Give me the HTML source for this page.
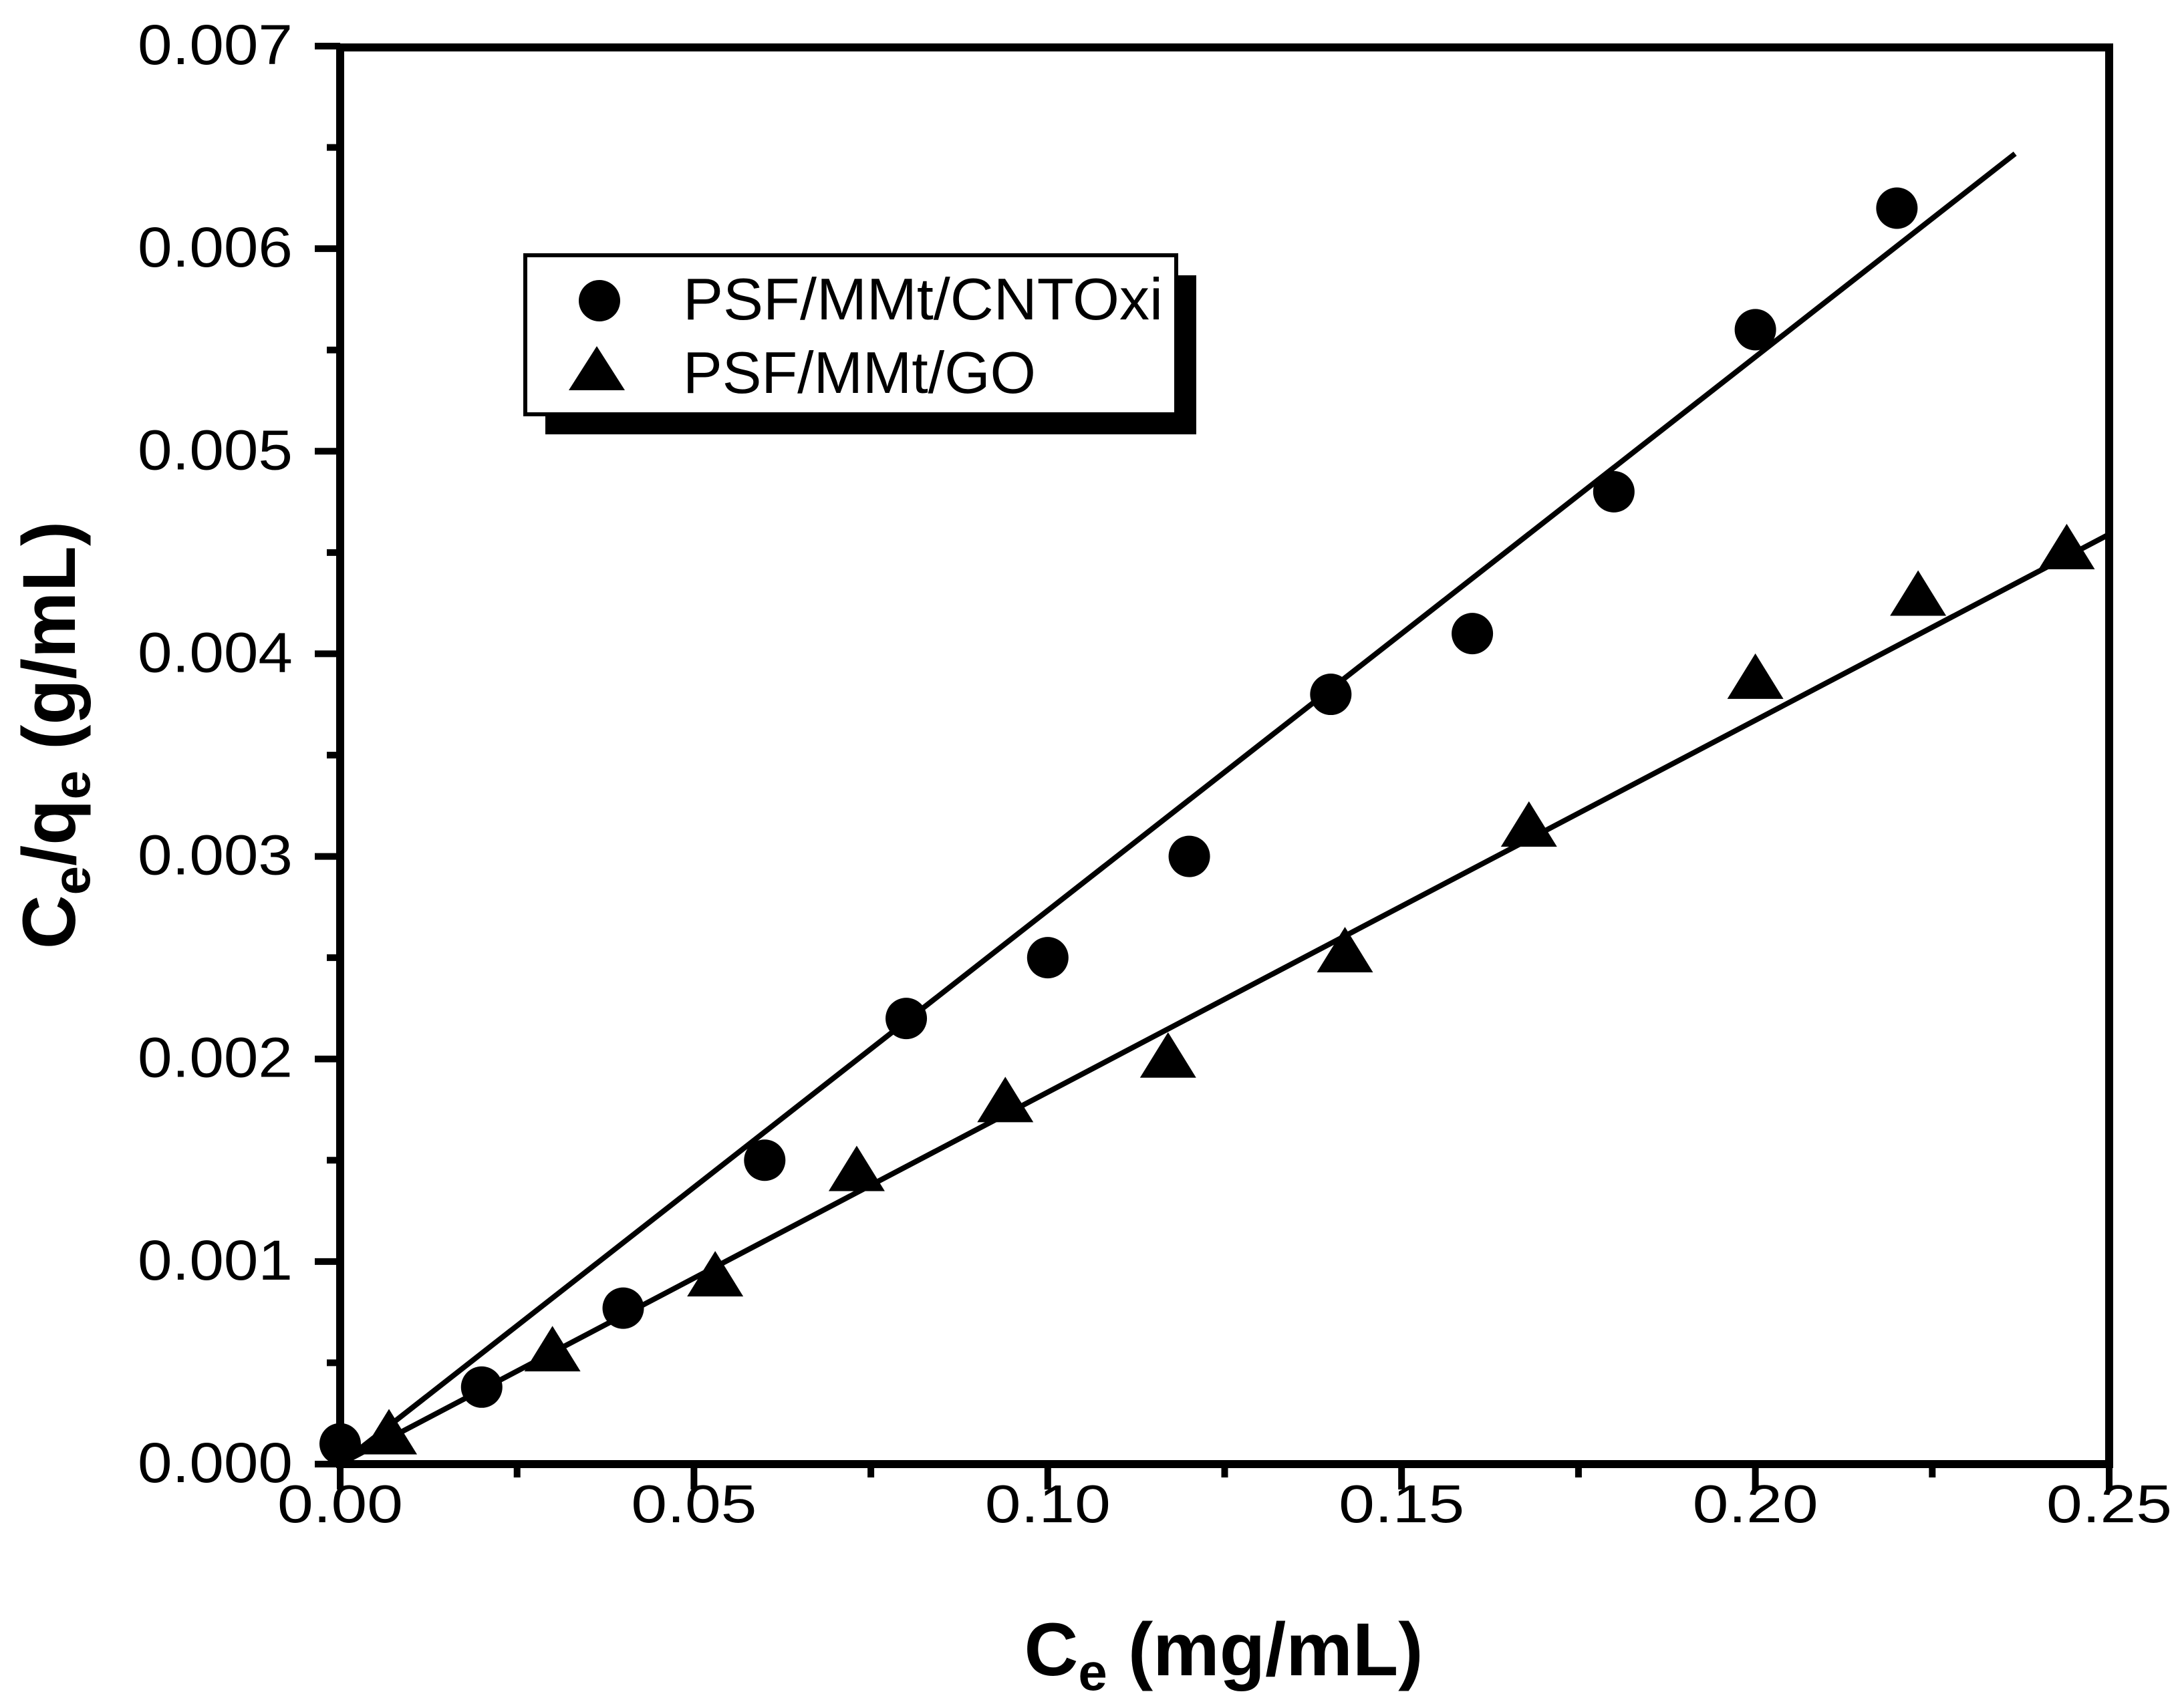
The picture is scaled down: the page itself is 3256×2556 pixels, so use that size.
<!DOCTYPE html>
<html><head><meta charset="utf-8"><style>
html,body{margin:0;padding:0;background:#fff;}
svg{display:block;font-family:"Liberation Sans",Arial,sans-serif;}
</style></head><body>
<svg id="chart" xmlns="http://www.w3.org/2000/svg" width="3256" height="2556" viewBox="0 0 3256 2556">
<rect width="3256" height="2556" fill="#fff"/>
<g id="ticks"></g>
<g id="lines"></g>
<g id="marks"></g>
<rect x="509" y="71" width="2647" height="2120" fill="none" stroke="#000" stroke-width="12"/>
<g>
<rect x="816" y="412" width="974" height="238" fill="#000"/>
<rect x="786" y="382" width="974" height="238" fill="#fff" stroke="#000" stroke-width="6"/>
<circle cx="897" cy="450" r="31" fill="#000"/>
<text x="1022" y="478" font-size="88" textLength="718" lengthAdjust="spacingAndGlyphs">PSF/MMt/CNTOxi</text>
<polygon points="893,518 851,584 935,584" fill="#000"/>
<text x="1022" y="588" font-size="88">PSF/MMt/GO</text>
</g>
<text x="1831" y="2507" font-size="112" font-weight="bold" text-anchor="middle">C<tspan font-size="78" dy="22">e</tspan><tspan dy="-22"> (mg/mL)</tspan></text>
<text transform="translate(112,1100) rotate(-90)" font-size="112" font-weight="bold" text-anchor="middle">C<tspan font-size="78" dy="22">e</tspan><tspan dy="-22">/q</tspan><tspan font-size="78" dy="22">e</tspan><tspan dy="-22"> (g/mL)</tspan></text>
</svg>
<script>
const cntX = [0, 0.02, 0.04, 0.06, 0.08, 0.10, 0.12, 0.14, 0.16, 0.18, 0.20, 0.22];
const cntY = [0.0001, 0.00038, 0.00077, 0.0015, 0.0022, 0.0025, 0.003, 0.0038, 0.0041, 0.0048, 0.0056, 0.0062];
const goX = [0.0069, 0.030, 0.053, 0.073, 0.094, 0.117, 0.142, 0.168, 0.200, 0.223, 0.244];
const goY = [0.00014, 0.00055, 0.00092, 0.00144, 0.00178, 0.0020, 0.00252, 0.00314, 0.00387, 0.00428, 0.00451];
const fitSlope = [0.02733, 0.01836];
const fitIntercept = [0, 0];
const fitXEnd = [0.2367, 0.25];
const xTicks = ["0.00", "0.05", "0.10", "0.15", "0.20", "0.25"];
const yTicks = ["0.000", "0.001", "0.002", "0.003", "0.004", "0.005", "0.006", "0.007"];

const NS = "http://www.w3.org/2000/svg";
const X0 = 509, X1 = 3156, Y0 = 2191, Y1 = 69;
const xs = v => X0 + v / 0.25 * (X1 - X0);
const ys = v => Y0 - v / 0.007 * (Y0 - Y1);
function mk(tag, attrs, parent) {
  const e = document.createElementNS(NS, tag);
  for (const k in attrs) e.setAttribute(k, attrs[k]);
  parent.appendChild(e);
  return e;
}
const tg = document.getElementById('ticks');
xTicks.forEach((t, i) => {
  const v = parseFloat(t), x = xs(v);
  const l = mk('line', {x1: x, x2: x, y1: Y0, y2: Y0 + 38, stroke: '#000', 'stroke-width': 10}, tg);
  
  
  if (i < xTicks.length - 1) {
    const xm = xs(v + 0.025);
    const m = mk('line', {x1: xm, x2: xm, y1: Y0, y2: Y0 + 20, stroke: '#000', 'stroke-width': 10}, tg);
    
    
  }
  const tx = mk('text', {x: x, y: 2278, 'font-size': 80, 'text-anchor': 'middle', textLength: 188, lengthAdjust: 'spacingAndGlyphs'}, tg);
  tx.textContent = t;
  
  
});
yTicks.forEach((t, i) => {
  const v = parseFloat(t), y = ys(v);
  const l = mk('line', {x1: X0, x2: X0 - 38, y1: y, y2: y, stroke: '#000', 'stroke-width': 10}, tg);
  
  
  if (i < yTicks.length - 1) {
    const ym = ys(v + 0.0005);
    const m = mk('line', {x1: X0, x2: X0 - 20, y1: ym, y2: ym, stroke: '#000', 'stroke-width': 10}, tg);
    
    
  }
  const tx = mk('text', {x: 438, y: y + 27, 'font-size': 84, 'text-anchor': 'end', textLength: 232, lengthAdjust: 'spacingAndGlyphs'}, tg);
  tx.textContent = t;
  
  
});
const lg = document.getElementById('lines');
fitSlope.forEach((s, i) => {
  const l = mk('line', {x1: xs(0), y1: ys(fitIntercept[i]), x2: xs(fitXEnd[i]), y2: ys(fitIntercept[i] + s * fitXEnd[i]), stroke: '#000', 'stroke-width': 8}, lg);
  
  
});
const mg = document.getElementById('marks');
cntX.forEach((v, i) => {
  const c = mk('circle', {cx: xs(v), cy: ys(cntY[i]), r: 31, fill: '#000'}, mg);
  
  
});
goX.forEach((v, i) => {
  const x = xs(v), y = ys(goY[i]);
  const p = mk('polygon', {points: `${x},${y - 40} ${x - 42},${y + 28} ${x + 42},${y + 28}`, fill: '#000'}, mg);
  
  
});
</script>
</body></html>
